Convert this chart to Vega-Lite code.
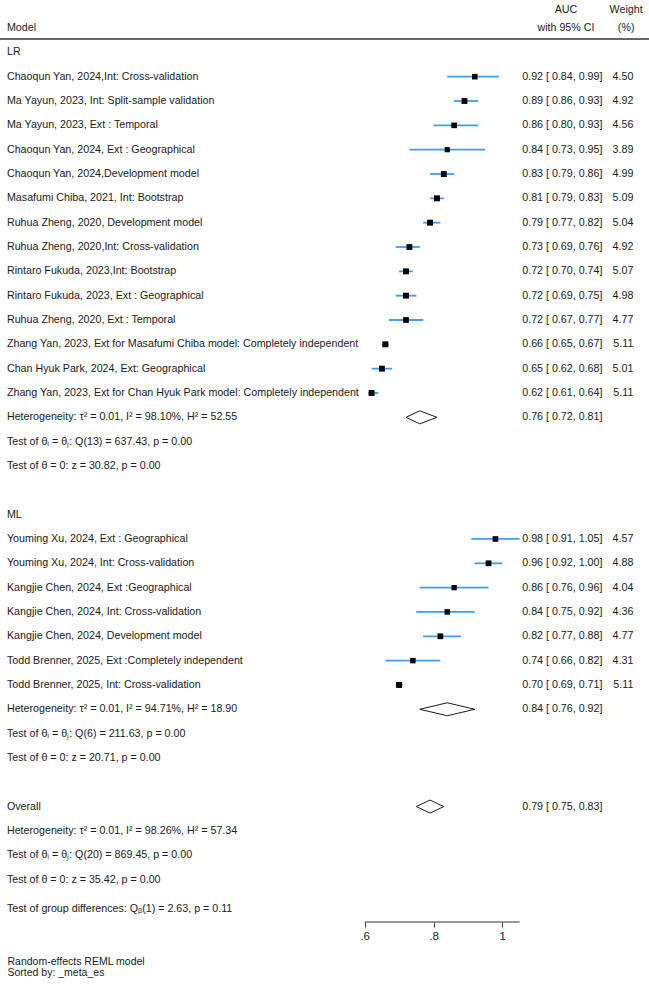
{
  "$schema": "https://vega.github.io/schema/vega-lite/v6.json",
  "width": 649,
  "height": 922,
  "padding": {"top": 0, "left": 0, "right": 0, "bottom": 67},
  "autosize": {"type": "none"},
  "background": "white",
  "config": {
    "view": {"stroke": null},
    "font": "Liberation Sans, Arial, sans-serif",
    "text": {"fontSize": 10.7, "color": "#1a1a1a", "font": "Liberation Sans, Arial, sans-serif"}
  },
  "datasets": {
    "rows": [
      {"row": -2, "kind": "colhead", "label": "Model"},
      {"row": -1, "kind": "group", "label": "LR"},
      {"row": 0, "kind": "study", "label": "Chaoqun Yan, 2024,Int: Cross-validation", "est": 0.92, "lo": 0.84, "hi": 0.99, "weight": 4.50},
      {"row": 1, "kind": "study", "label": "Ma Yayun, 2023, Int: Split-sample validation", "est": 0.89, "lo": 0.86, "hi": 0.93, "weight": 4.92},
      {"row": 2, "kind": "study", "label": "Ma Yayun, 2023, Ext : Temporal", "est": 0.86, "lo": 0.80, "hi": 0.93, "weight": 4.56},
      {"row": 3, "kind": "study", "label": "Chaoqun Yan, 2024, Ext : Geographical", "est": 0.84, "lo": 0.73, "hi": 0.95, "weight": 3.89},
      {"row": 4, "kind": "study", "label": "Chaoqun Yan, 2024,Development model", "est": 0.83, "lo": 0.79, "hi": 0.86, "weight": 4.99},
      {"row": 5, "kind": "study", "label": "Masafumi Chiba, 2021, Int: Bootstrap", "est": 0.81, "lo": 0.79, "hi": 0.83, "weight": 5.09},
      {"row": 6, "kind": "study", "label": "Ruhua Zheng, 2020, Development model", "est": 0.79, "lo": 0.77, "hi": 0.82, "weight": 5.04},
      {"row": 7, "kind": "study", "label": "Ruhua Zheng, 2020,Int: Cross-validation", "est": 0.73, "lo": 0.69, "hi": 0.76, "weight": 4.92},
      {"row": 8, "kind": "study", "label": "Rintaro Fukuda, 2023,Int: Bootstrap", "est": 0.72, "lo": 0.70, "hi": 0.74, "weight": 5.07},
      {"row": 9, "kind": "study", "label": "Rintaro Fukuda, 2023, Ext : Geographical", "est": 0.72, "lo": 0.69, "hi": 0.75, "weight": 4.98},
      {"row": 10, "kind": "study", "label": "Ruhua Zheng, 2020, Ext :  Temporal", "est": 0.72, "lo": 0.67, "hi": 0.77, "weight": 4.77},
      {"row": 11, "kind": "study", "label": "Zhang Yan, 2023, Ext for Masafumi Chiba model: Completely independent", "est": 0.66, "lo": 0.65, "hi": 0.67, "weight": 5.11},
      {"row": 12, "kind": "study", "label": "Chan Hyuk Park, 2024, Ext: Geographical", "est": 0.65, "lo": 0.62, "hi": 0.68, "weight": 5.01},
      {"row": 13, "kind": "study", "label": "Zhang Yan, 2023, Ext for Chan Hyuk Park model: Completely independent", "est": 0.62, "lo": 0.61, "hi": 0.64, "weight": 5.11},
      {"row": 14, "kind": "subtotal", "label": "Heterogeneity: τ² = 0.01, I² = 98.10%, H² = 52.55", "est": 0.76, "lo": 0.72, "hi": 0.81},
      {"row": 15, "kind": "note", "label": "Test of θᵢ = θⱼ: Q(13) = 637.43, p = 0.00"},
      {"row": 16, "kind": "note", "label": "Test of θ = 0: z = 30.82, p = 0.00"},
      {"row": 18, "kind": "group", "label": "ML"},
      {"row": 19, "kind": "study", "label": "Youming Xu, 2024, Ext : Geographical", "est": 0.98, "lo": 0.91, "hi": 1.05, "weight": 4.57},
      {"row": 20, "kind": "study", "label": "Youming Xu, 2024, Int: Cross-validation", "est": 0.96, "lo": 0.92, "hi": 1.00, "weight": 4.88},
      {"row": 21, "kind": "study", "label": "Kangjie Chen, 2024, Ext :Geographical", "est": 0.86, "lo": 0.76, "hi": 0.96, "weight": 4.04},
      {"row": 22, "kind": "study", "label": "Kangjie Chen, 2024, Int: Cross-validation", "est": 0.84, "lo": 0.75, "hi": 0.92, "weight": 4.36},
      {"row": 23, "kind": "study", "label": "Kangjie Chen, 2024, Development model", "est": 0.82, "lo": 0.77, "hi": 0.88, "weight": 4.77},
      {"row": 24, "kind": "study", "label": "Todd Brenner, 2025, Ext :Completely independent", "est": 0.74, "lo": 0.66, "hi": 0.82, "weight": 4.31},
      {"row": 25, "kind": "study", "label": "Todd Brenner, 2025, Int: Cross-validation", "est": 0.70, "lo": 0.69, "hi": 0.71, "weight": 5.11},
      {"row": 26, "kind": "subtotal", "label": "Heterogeneity: τ² = 0.01, I² = 94.71%, H² = 18.90", "est": 0.84, "lo": 0.76, "hi": 0.92},
      {"row": 27, "kind": "note", "label": "Test of θᵢ = θⱼ: Q(6) = 211.63, p = 0.00"},
      {"row": 28, "kind": "note", "label": "Test of θ = 0: z = 20.71, p = 0.00"},
      {"row": 30, "kind": "overall", "label": "Overall", "est": 0.79, "lo": 0.75, "hi": 0.83},
      {"row": 31, "kind": "note", "label": "Heterogeneity: τ² = 0.01, I² = 98.26%, H² = 57.34"},
      {"row": 32, "kind": "note", "label": "Test of θᵢ = θⱼ: Q(20) = 869.45, p = 0.00"},
      {"row": 33, "kind": "note", "label": "Test of θ = 0: z = 35.42, p = 0.00"},
      {"row": 34.2, "kind": "note", "label": "Test of group differences: Qᵦ(1) = 2.63, p = 0.11"}
    ],
    "heads": [
      {"row": -2.74, "col": "ci", "text": "AUC"},
      {"row": -2, "col": "ci", "text": "with 95% CI"},
      {"row": -2.74, "col": "w", "text": "Weight"},
      {"row": -2, "col": "w", "text": "(%)"}
    ]
  },
  "data": {"name": "rows"},
  "layer": [
    {
      "data": {"values": [{"line": "header"}]},
      "mark": {"type": "rule", "color": "#666666", "strokeWidth": 2},
      "encoding": {
        "y": {"datum": -1.55, "type": "quantitative", "scale": {"domain": [-3.152, 34.743], "reverse": true, "nice": false, "zero": false}, "axis": null}
      }
    },
    {
      "data": {"values": [{"line": "axis"}]},
      "mark": {"type": "rule", "color": "#333333", "strokeWidth": 1},
      "encoding": {
        "x": {"datum": 0.6, "type": "quantitative", "scale": {"domain": [-0.46017, 1.42645], "nice": false, "zero": false},
          "axis": {
            "values": [0.6, 0.8, 1],
            "format": ".1~f",
            "labelExpr": "replace(datum.label, '0.', '.')",
            "domain": false,
            "grid": false,
            "ticks": true,
            "tickSize": 5,
            "tickColor": "#333333",
            "labelFontSize": 11.5,
            "labelColor": "#1a1a1a",
            "labelPadding": 3,
            "labelFont": "Liberation Sans, Arial, sans-serif",
            "title": ["Random-effects REML model", "Sorted by: _meta_es"],
            "titleX": 7,
            "titleY": 34,
            "titleAlign": "left",
            "titleAnchor": "start",
            "titleBaseline": "top",
            "titleFontSize": 10.5,
            "titleFontWeight": "normal",
            "titleLineHeight": 11.5,
            "titleColor": "#1a1a1a",
            "titleFont": "Liberation Sans, Arial, sans-serif"
          }
        },
        "x2": {"datum": 1.05},
        "y": {"datum": 34.743, "type": "quantitative", "scale": {"domain": [-3.152, 34.743], "reverse": true, "nice": false, "zero": false}, "axis": null}
      }
    },
    {
      "transform": [{"filter": "datum.kind == 'study'"}],
      "mark": {"type": "rule", "color": "#3d9df3", "strokeWidth": 1.8},
      "encoding": {
        "x": {"field": "lo", "type": "quantitative", "scale": {"domain": [-0.46017, 1.42645], "nice": false, "zero": false}},
        "x2": {"field": "hi"},
        "y": {"field": "row", "type": "quantitative", "scale": {"domain": [-3.152, 34.743], "reverse": true, "nice": false, "zero": false}, "axis": null}
      }
    },
    {
      "transform": [{"filter": "datum.kind == 'study'"}],
      "mark": {"type": "point", "shape": "square", "filled": true, "color": "#000000", "opacity": 1},
      "encoding": {
        "x": {"field": "est", "type": "quantitative", "scale": {"domain": [-0.46017, 1.42645], "nice": false, "zero": false}},
        "y": {"field": "row", "type": "quantitative", "scale": {"domain": [-3.152, 34.743], "reverse": true, "nice": false, "zero": false}, "axis": null},
        "size": {"field": "weight", "type": "quantitative", "scale": {"domain": [0, 5.2], "range": [0, 36]}, "legend": null}
      }
    },
    {
      "transform": [
        {"filter": "datum.kind == 'subtotal' || datum.kind == 'overall'"},
        {"fold": ["lo", "est", "hi"], "as": ["pt", "xv"]},
        {"calculate": "datum.pt == 'est' ? 0.267 : 0", "as": "h"},
        {"calculate": "datum.row - datum.h", "as": "ytop"},
        {"calculate": "datum.row + datum.h", "as": "ybot"}
      ],
      "mark": {"type": "area", "fill": "white", "stroke": "#1a1a1a", "strokeWidth": 1, "orient": "vertical"},
      "encoding": {
        "x": {"field": "xv", "type": "quantitative", "scale": {"domain": [-0.46017, 1.42645], "nice": false, "zero": false}},
        "y": {"field": "ytop", "type": "quantitative", "scale": {"domain": [-3.152, 34.743], "reverse": true, "nice": false, "zero": false}, "axis": null},
        "y2": {"field": "ybot"},
        "detail": {"field": "row"}
      }
    },
    {
      "mark": {"type": "text", "align": "left", "baseline": "middle"},
      "encoding": {
        "x": {"datum": -0.44, "type": "quantitative", "scale": {"domain": [-0.46017, 1.42645], "nice": false, "zero": false}},
        "y": {"field": "row", "type": "quantitative", "scale": {"domain": [-3.152, 34.743], "reverse": true, "nice": false, "zero": false}, "axis": null},
        "text": {"field": "label"},
        "fontWeight": {"condition": {"test": "datum.kind == 'group' || datum.kind == 'overall'", "value": "bold"}, "value": "normal"}
      }
    },
    {
      "transform": [
        {"filter": "isValid(datum.est)"},
        {"calculate": "format(datum.est, '.2f') + ' [ ' + format(datum.lo, '.2f') + ',  ' + format(datum.hi, '.2f') + ']'", "as": "ci"}
      ],
      "mark": {"type": "text", "align": "left", "baseline": "middle"},
      "encoding": {
        "x": {"datum": 1.058, "type": "quantitative", "scale": {"domain": [-0.46017, 1.42645], "nice": false, "zero": false}},
        "y": {"field": "row", "type": "quantitative", "scale": {"domain": [-3.152, 34.743], "reverse": true, "nice": false, "zero": false}, "axis": null},
        "text": {"field": "ci"}
      }
    },
    {
      "transform": [{"filter": "isValid(datum.weight)"}],
      "mark": {"type": "text", "align": "right", "baseline": "middle"},
      "encoding": {
        "x": {"datum": 1.381, "type": "quantitative", "scale": {"domain": [-0.46017, 1.42645], "nice": false, "zero": false}},
        "y": {"field": "row", "type": "quantitative", "scale": {"domain": [-3.152, 34.743], "reverse": true, "nice": false, "zero": false}, "axis": null},
        "text": {"field": "weight", "format": ".2f"}
      }
    },
    {
      "data": {"name": "heads"},
      "transform": [{"filter": "datum.col == 'ci'"}],
      "mark": {"type": "text", "align": "center", "baseline": "middle"},
      "encoding": {
        "x": {"datum": 1.185, "type": "quantitative", "scale": {"domain": [-0.46017, 1.42645], "nice": false, "zero": false}},
        "y": {"field": "row", "type": "quantitative", "scale": {"domain": [-3.152, 34.743], "reverse": true, "nice": false, "zero": false}, "axis": null},
        "text": {"field": "text"}
      }
    },
    {
      "data": {"name": "heads"},
      "transform": [{"filter": "datum.col == 'w'"}],
      "mark": {"type": "text", "align": "center", "baseline": "middle"},
      "encoding": {
        "x": {"datum": 1.36, "type": "quantitative", "scale": {"domain": [-0.46017, 1.42645], "nice": false, "zero": false}},
        "y": {"field": "row", "type": "quantitative", "scale": {"domain": [-3.152, 34.743], "reverse": true, "nice": false, "zero": false}, "axis": null},
        "text": {"field": "text"}
      }
    }
  ]
}
